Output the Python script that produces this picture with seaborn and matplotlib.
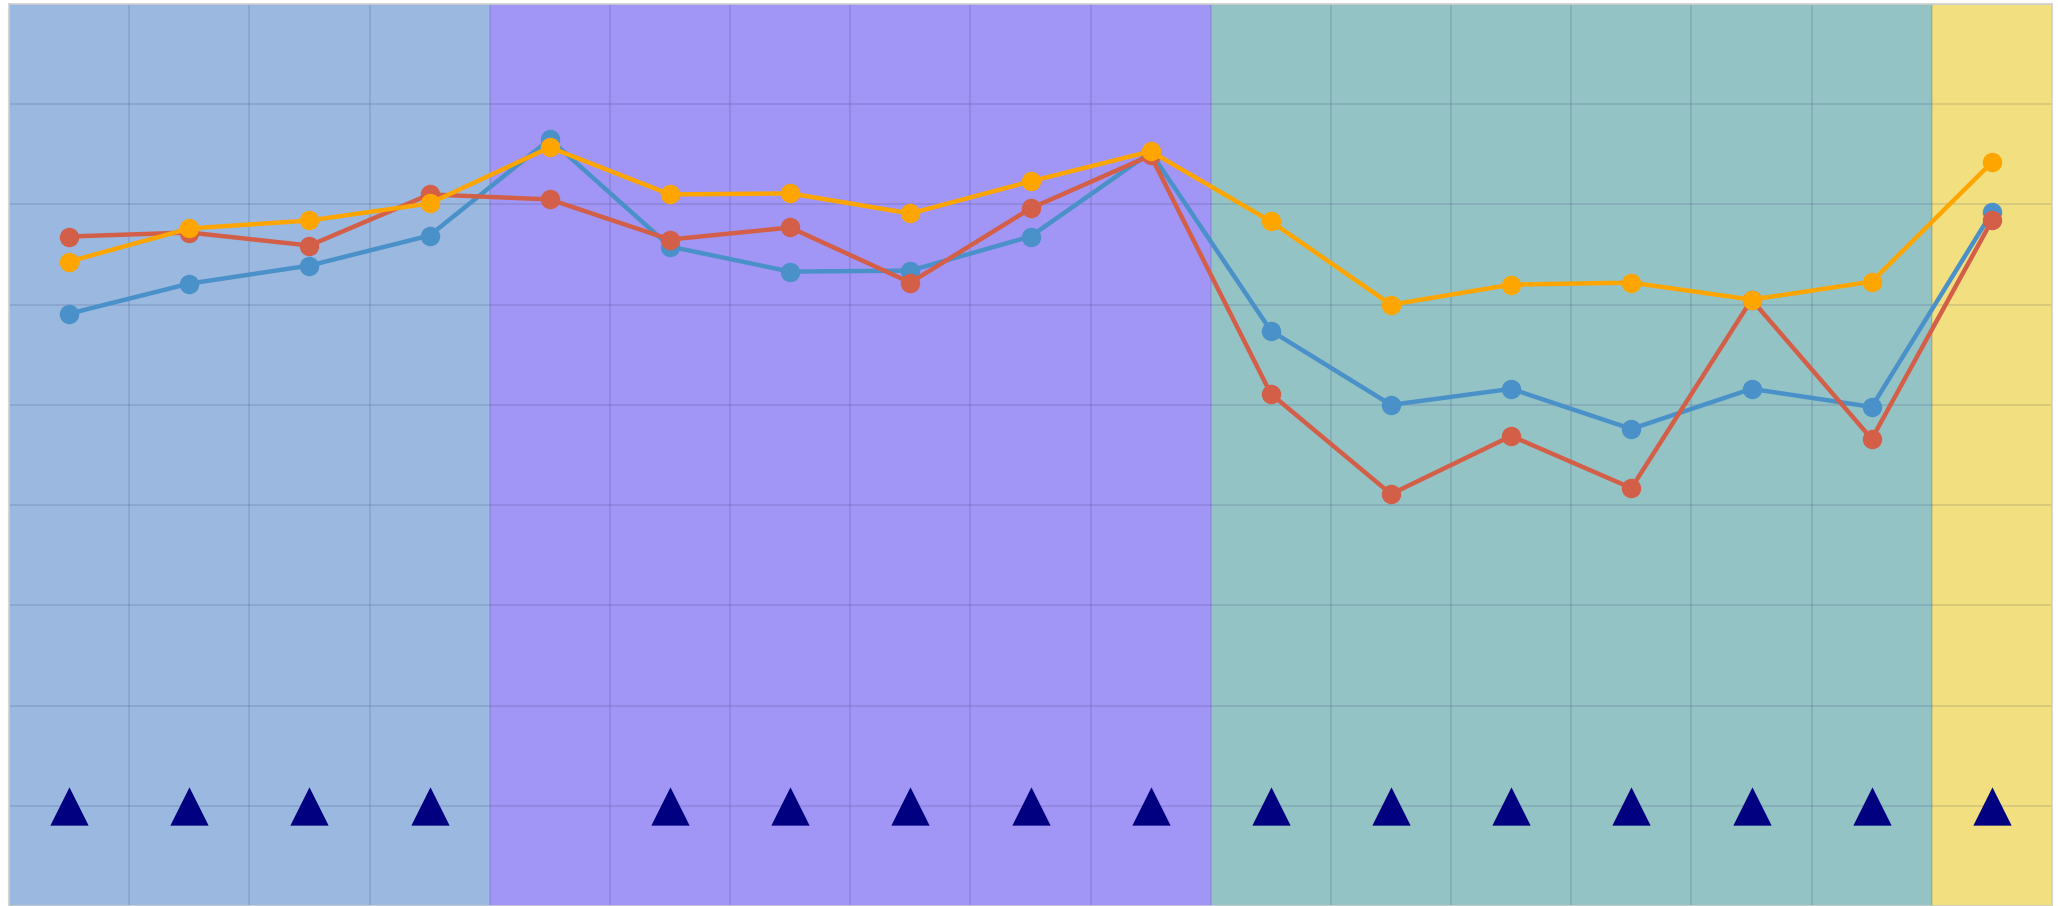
import matplotlib
matplotlib.use("Agg")
import matplotlib.pyplot as plt
import numpy as np
import pandas as pd
import seaborn as sns

sns.set_theme(style="white")

# ── data ─────────────────────────────────────────────────────────────────────
positions = list(range(17))

blue_vals   = [59.1, 62.1, 63.9, 66.9, 76.5, 65.8, 63.3, 63.4, 66.8, 75.2,
               57.4, 50.0, 51.6, 47.6, 51.6, 49.8, 69.2]
red_vals    = [66.8, 67.2, 65.9, 71.0, 70.5, 66.5, 67.7, 62.2, 69.6, 74.9,
               51.1, 41.1, 46.9, 41.7, 60.5, 46.6, 68.4]
orange_vals = [64.3, 67.6, 68.4, 70.1, 75.7, 71.0, 71.1, 69.1, 72.3, 75.3,
               68.3, 60.0, 62.0, 62.2, 60.5, 62.3, 74.2]

marker_pos = [0, 1, 2, 3, 5, 6, 7, 8, 9, 10, 11, 12, 13, 14, 15, 16]
marker_val = [10] * len(marker_pos)

phase_sizes  = [4, 6, 6, 1]
phase_colors = ["#9ab8e0", "#a196f5", "#94c3c6", "#f2e080"]

series_names  = ["blue", "red", "orange"]
series_colors = ["#4a90c9", "#d35f49", "#ffa500"]

# ── figure ───────────────────────────────────────────────────────────────────
df = pd.DataFrame({
    "x": positions * 3,
    "value": blue_vals + red_vals + orange_vals,
    "series": np.repeat(series_names, len(positions)),
})
tri = pd.DataFrame({"x": marker_pos, "value": marker_val})

fig = plt.figure(figsize=(20.58, 9.06), dpi=100)
ax = fig.add_axes([9 / 2058, 0.0, 2043 / 2058, 902 / 906])

start = -0.5
for size, col in zip(phase_sizes, phase_colors):
    ax.axvspan(start, start + size, color=col, zorder=0, lw=0)
    start += size

sns.lineplot(data=df, x="x", y="value", hue="series", hue_order=series_names,
             palette=dict(zip(series_names, series_colors)), marker="o",
             markersize=14, markeredgewidth=0, linewidth=3.2, legend=False,
             ax=ax, zorder=3)
sns.scatterplot(data=tri, x="x", y="value", marker="^", s=760,
                color="#000080", linewidth=0, ax=ax, zorder=4)

ax.set_xlim(-0.5, len(positions) - 0.5)
ax.set_ylim(0, 90)
ax.set_xticks(np.arange(-0.5, len(positions), 1))
ax.set_yticks(np.arange(0, 91, 10))
ax.set_axisbelow(True)
ax.grid(True, color="#2a2a60", alpha=0.16, linewidth=1.1)
ax.tick_params(length=0, labelbottom=False, labelleft=False)
ax.set_xlabel(""); ax.set_ylabel("")
for s in ax.spines.values():
    s.set_color("#d0d0d0")
    s.set_linewidth(1.2)

fig.savefig("out.png", dpi=100)
